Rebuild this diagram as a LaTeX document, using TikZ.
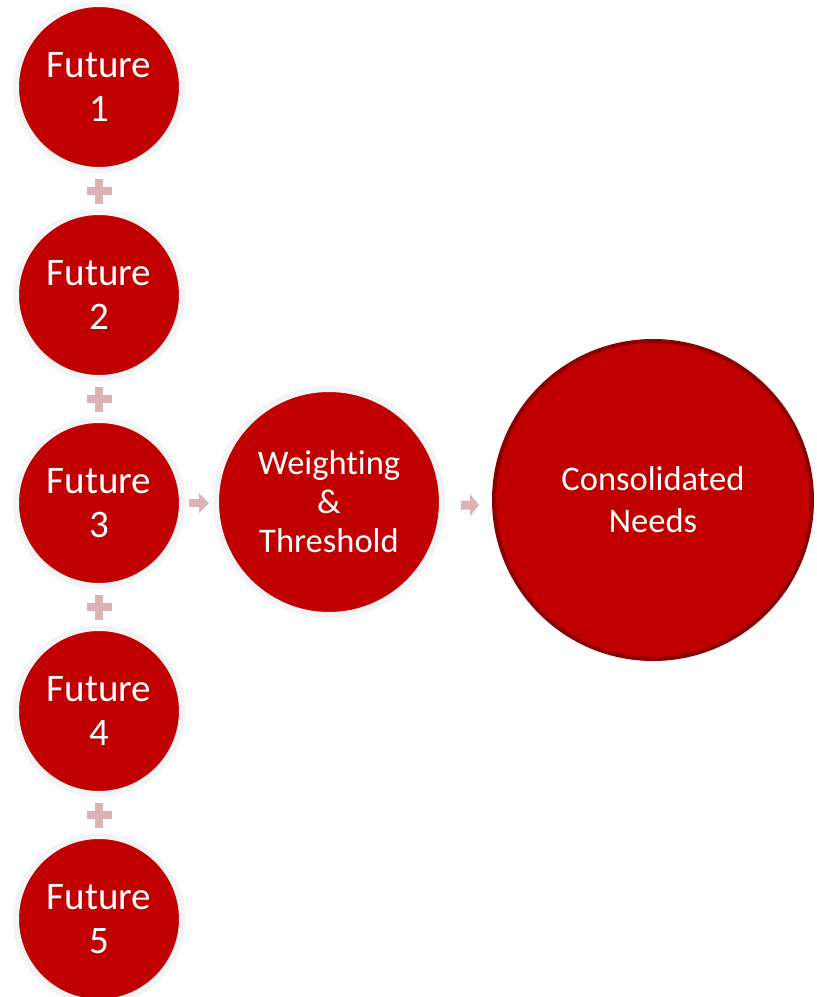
\documentclass[tikz,border=0pt]{standalone}
\usepackage{fontspec}
\setmainfont{Carlito}[Ligatures={NoCommon}]
\definecolor{mainred}{HTML}{C00000}
\definecolor{ringgray}{HTML}{F4F4F4}
\definecolor{darkrim}{HTML}{8C0000}
\definecolor{softpink}{HTML}{DDB2B4}
\begin{document}
\begin{tikzpicture}[x=1pt,y=-1pt,
  future/.style={circle,fill=mainred,draw=ringgray,line width=6pt,minimum size=166pt,inner sep=0pt,
    text=white,align=center,font=\fontsize{39}{44}\selectfont},
  weight/.style={circle,fill=mainred,draw=ringgray,line width=6pt,minimum size=226pt,inner sep=0pt,
    text=white,align=center,font=\fontsize{34.5}{39}\selectfont},
  consol/.style={circle,fill=mainred,draw=darkrim,line width=4pt,minimum size=318pt,inner sep=0pt,
    text=white,align=center,font=\fontsize{34.5}{42}\selectfont},
  plusmark/.style={fill=softpink},
  arrowmark/.style={fill=softpink}]
\useasboundingbox (0,0) rectangle (817,997);
\node[future] (f1) at (99,87) {Future\\1};
\node[future] (f2) at (99,295) {Future\\2};
\node[future] (f3) at (99,503) {Future\\3};
\node[future] (f4) at (99,711) {Future\\4};
\node[future] (f5) at (99,919) {Future\\5};
\node[weight] (wt) at (329,502) {Weighting\\\&\\Threshold};
\node[consol] (cn) at (653,500) {Consolidated\\Needs};
% plus signs
\foreach \n/\yy in {p1/191,p2/399,p3/607,p4/815}{
  \coordinate (\n) at (99,\yy);
  \fill[plusmark] ([shift={(-12.5,-4)}]\n) rectangle ([shift={(12.5,4)}]\n);
  \fill[plusmark] ([shift={(-4,-12.5)}]\n) rectangle ([shift={(4,12.5)}]\n);
}
% arrows
\coordinate (a1) at (189,503);
\fill[arrowmark] ([shift={(0,-4)}]a1) -- ([shift={(10,-4)}]a1) -- ([shift={(10,-10)}]a1)
  -- ([shift={(20,0)}]a1) -- ([shift={(10,10)}]a1) -- ([shift={(10,4)}]a1) -- ([shift={(0,4)}]a1) -- cycle;
\coordinate (a2) at (461,505);
\fill[arrowmark] ([shift={(0,-4.5)}]a2) -- ([shift={(9,-4.5)}]a2) -- ([shift={(9,-11)}]a2)
  -- ([shift={(18,0)}]a2) -- ([shift={(9,11)}]a2) -- ([shift={(9,4.5)}]a2) -- ([shift={(0,4.5)}]a2) -- cycle;
\end{tikzpicture}
\end{document}
